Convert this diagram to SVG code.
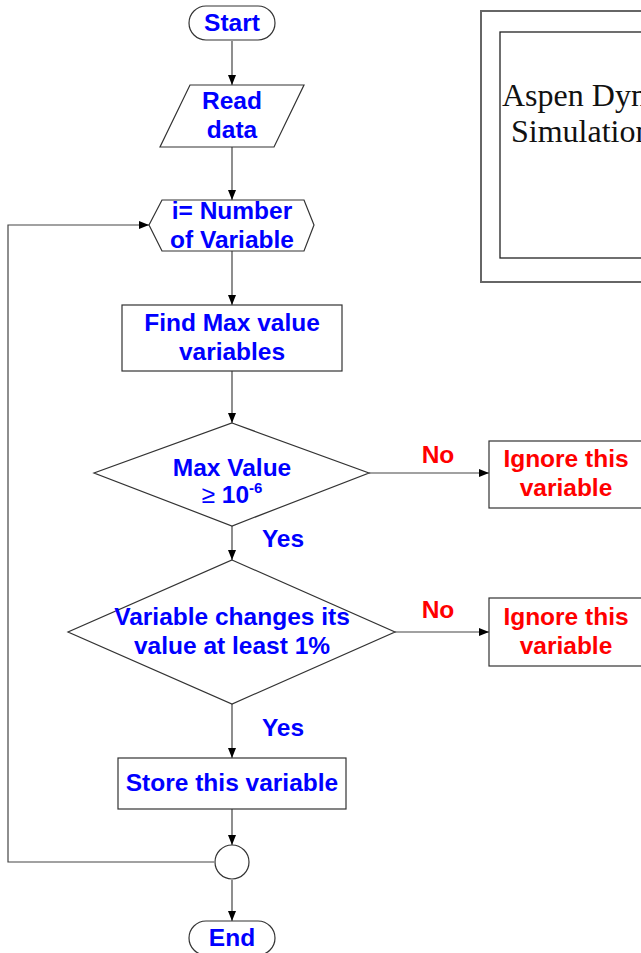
<svg xmlns="http://www.w3.org/2000/svg" width="641" height="953" viewBox="0 0 641 953">
<style>
.shape{fill:#fff;stroke:#333;stroke-width:1.2}
.conn{fill:none;stroke:#444;stroke-width:1.2}
.bt{font-family:"Liberation Sans",Arial,sans-serif;font-weight:bold;font-size:24.5px;fill:#0000ff;text-anchor:middle}
.rt{font-family:"Liberation Sans",Arial,sans-serif;font-weight:bold;font-size:24.5px;fill:#ff0000;text-anchor:middle}
.tt{font-family:"Liberation Serif","Times New Roman",serif;font-size:32px;fill:#111}
</style>
<defs>
<marker id="arr" viewBox="0 0 10 8" refX="10" refY="4" markerWidth="10" markerHeight="8" markerUnits="userSpaceOnUse" orient="auto">
<path d="M0,0 L10,4 L0,8 Z" fill="#000"/>
</marker>
</defs>
<g id="connectors">
<line class="conn" x1="232" y1="41" x2="232" y2="85" marker-end="url(#arr)"/>
<line class="conn" x1="232" y1="147" x2="232" y2="200" marker-end="url(#arr)"/>
<line class="conn" x1="232" y1="251" x2="232" y2="305" marker-end="url(#arr)"/>
<line class="conn" x1="232" y1="371" x2="232" y2="423" marker-end="url(#arr)"/>
<line class="conn" x1="232" y1="526" x2="232" y2="560" marker-end="url(#arr)"/>
<line class="conn" x1="232" y1="704" x2="232" y2="758" marker-end="url(#arr)"/>
<line class="conn" x1="232" y1="809" x2="232" y2="845" marker-end="url(#arr)"/>
<line class="conn" x1="232" y1="880" x2="232" y2="921" marker-end="url(#arr)"/>
<line class="conn" x1="369" y1="473" x2="489" y2="473" marker-end="url(#arr)"/>
<line class="conn" x1="395" y1="632" x2="489" y2="632" marker-end="url(#arr)"/>
<polyline class="conn" points="214,862 8,862 8,225 149,225" marker-end="url(#arr)"/>
<text class="rt" x="438" y="463">No</text>
<text class="rt" x="438" y="618">No</text>
<text class="bt" x="283" y="547">Yes</text>
<text class="bt" x="283" y="736">Yes</text>
</g>
<g id="start">
<rect class="shape" x="189" y="6" width="86" height="34" rx="17"/>
<text class="bt" x="232" y="31">Start</text>
</g>
<g id="read">
<polygon class="shape" points="190,85 304,85 274,147 160,147"/>
<text class="bt" x="232" y="109">Read</text>
<text class="bt" x="232" y="138">data</text>
</g>
<g id="loop">
<polygon class="shape" points="162,200 304,200 314,225 304,251 162,251 149,225"/>
<text class="bt" x="232" y="219">i= Number</text>
<text class="bt" x="232" y="248">of Variable</text>
</g>
<g id="findmax">
<rect class="shape" x="122" y="305" width="220" height="66"/>
<text class="bt" x="232" y="331">Find Max value</text>
<text class="bt" x="232" y="360">variables</text>
</g>
<g id="decision1">
<polygon class="shape" points="232,423 369,473 232,526 94,473"/>
<text class="bt" x="232" y="476">Max Value</text>
<text class="bt" x="232" y="503"><tspan font-weight="normal">≥</tspan> 10<tspan font-size="15" dy="-10">-6</tspan></text>
</g>
<g id="ignore1">
<rect class="shape" x="489" y="441" width="160" height="67"/>
<text class="rt" x="566" y="467">Ignore this</text>
<text class="rt" x="566" y="496">variable</text>
</g>
<g id="decision2">
<polygon class="shape" points="232,560 395,632 232,704 68,632"/>
<text class="bt" x="232" y="625">Variable changes its</text>
<text class="bt" x="232" y="654">value at least 1%</text>
</g>
<g id="ignore2">
<rect class="shape" x="489" y="598" width="160" height="68"/>
<text class="rt" x="566" y="625">Ignore this</text>
<text class="rt" x="566" y="654">variable</text>
</g>
<g id="store">
<rect class="shape" x="118" y="758" width="228" height="51"/>
<text class="bt" x="232" y="791">Store this variable</text>
</g>
<g id="junction">
<circle class="shape" cx="232" cy="862" r="17"/>
</g>
<g id="end">
<rect class="shape" x="189" y="921" width="86" height="34" rx="17"/>
<text class="bt" x="232" y="946">End</text>
</g>
<g id="aspen">
<rect x="481" y="11" width="180" height="271" fill="#fff" stroke="#666" stroke-width="2"/>
<rect x="500" y="32" width="160" height="226" fill="#fff" stroke="#222" stroke-width="1.3"/>
<text class="tt" x="502" y="106">Aspen Dynamics</text>
<text class="tt" x="511" y="142">Simulation</text>
</g>
</svg>
